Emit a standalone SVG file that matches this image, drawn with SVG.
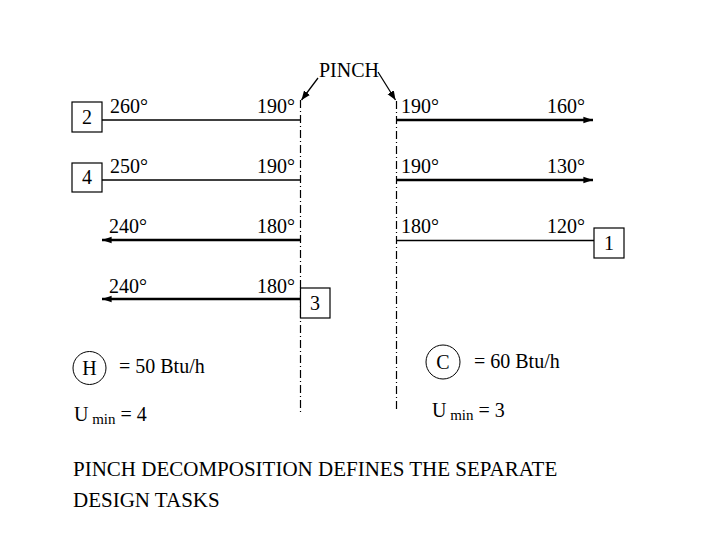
<svg xmlns="http://www.w3.org/2000/svg" width="720" height="540" viewBox="0 0 720 540">
<style>
text{font-family:"Liberation Serif","Times New Roman",serif;fill:#000}
.t{font-size:20px}
.s{font-size:15px}
.b{font-size:21px}
.box{fill:#fff;stroke:#000;stroke-width:1.2}
.thin{stroke:#000;stroke-width:1.3;fill:none}
.thick{stroke:#000;stroke-width:2.4;fill:none}
.pinch{stroke:#000;stroke-width:1.2;stroke-dasharray:8,3,1,3;fill:none}
</style>
<defs>
<marker id="ah" viewBox="0 0 10 10" refX="10" refY="5" markerWidth="4" markerHeight="4" orient="auto" markerUnits="strokeWidth"><path d="M0,1.5 L10,5 L0,8.5 Z" fill="#000"/></marker>
<marker id="ap" viewBox="0 0 10 10" refX="10" refY="5" markerWidth="7" markerHeight="7" orient="auto" markerUnits="strokeWidth"><path d="M0,1 L10,5 L0,9 Z" fill="#000"/></marker>
</defs>
<rect width="720" height="540" fill="#fff"/>
<g id="connectors">
<line class="pinch" x1="300.5" y1="100" x2="300.5" y2="412"/>
<line class="pinch" x1="396.5" y1="101" x2="396.5" y2="410"/>
<line class="thin" x1="318" y1="78" x2="301.5" y2="100" marker-end="url(#ap)"/>
<line class="thin" x1="378" y1="72" x2="395.5" y2="100" marker-end="url(#ap)"/>
<line class="thin" x1="102" y1="120" x2="300.5" y2="120"/>
<line class="thick" x1="396.5" y1="120" x2="593" y2="120" marker-end="url(#ah)"/>
<line class="thin" x1="102" y1="180" x2="300.5" y2="180"/>
<line class="thick" x1="396.5" y1="180" x2="593" y2="180" marker-end="url(#ah)"/>
<line class="thick" x1="300.5" y1="240" x2="102" y2="240" marker-end="url(#ah)"/>
<line class="thin" x1="396.5" y1="240.5" x2="594" y2="240.5"/>
<line class="thick" x1="300.5" y1="299" x2="102" y2="299" marker-end="url(#ah)"/>
</g>
<g id="pinch-label"><text class="t" x="319" y="77">PINCH</text></g>
<g id="stream2">
<rect class="box" x="72" y="102" width="30" height="30"/>
<text class="t" x="87" y="124" text-anchor="middle">2</text>
<text class="t" x="110" y="113">260°</text>
<text class="t" x="295" y="113" text-anchor="end">190°</text>
<text class="t" x="401" y="113">190°</text>
<text class="t" x="585" y="113" text-anchor="end">160°</text>
</g>
<g id="stream4">
<rect class="box" x="72" y="163" width="30" height="29"/>
<text class="t" x="87" y="184" text-anchor="middle">4</text>
<text class="t" x="110" y="173">250°</text>
<text class="t" x="295" y="173" text-anchor="end">190°</text>
<text class="t" x="401" y="173">190°</text>
<text class="t" x="585" y="173" text-anchor="end">130°</text>
</g>
<g id="stream1">
<rect class="box" x="594" y="228" width="30" height="30"/>
<text class="t" x="609" y="250" text-anchor="middle">1</text>
<text class="t" x="109" y="233">240°</text>
<text class="t" x="295" y="233" text-anchor="end">180°</text>
<text class="t" x="401" y="233">180°</text>
<text class="t" x="585" y="233" text-anchor="end">120°</text>
</g>
<g id="stream3">
<rect class="box" x="300.5" y="288" width="29.5" height="30"/>
<text class="t" x="315" y="310" text-anchor="middle">3</text>
<text class="t" x="109" y="293">240°</text>
<text class="t" x="295" y="293" text-anchor="end">180°</text>
</g>
<g id="hot-utility">
<circle cx="89.5" cy="368" r="16.5" fill="none" stroke="#000" stroke-width="1"/>
<text class="t" x="89.5" y="375" text-anchor="middle">H</text>
<text class="t" x="119" y="373">= 50 Btu/h</text>
<text class="t" x="74" y="421">U<tspan class="s" dy="3"> min</tspan><tspan dy="-3"> = 4</tspan></text>
</g>
<g id="cold-utility">
<circle cx="443" cy="362" r="17" fill="none" stroke="#000" stroke-width="1"/>
<text class="t" x="443" y="369" text-anchor="middle">C</text>
<text class="t" x="474" y="368">= 60 Btu/h</text>
<text class="t" x="432" y="417">U<tspan class="s" dy="3"> min</tspan><tspan dy="-3"> = 3</tspan></text>
</g>
<g id="caption">
<text class="b" x="73" y="476">PINCH DECOMPOSITION DEFINES THE SEPARATE</text>
<text class="b" x="73" y="507">DESIGN TASKS</text>
</g>
</svg>
